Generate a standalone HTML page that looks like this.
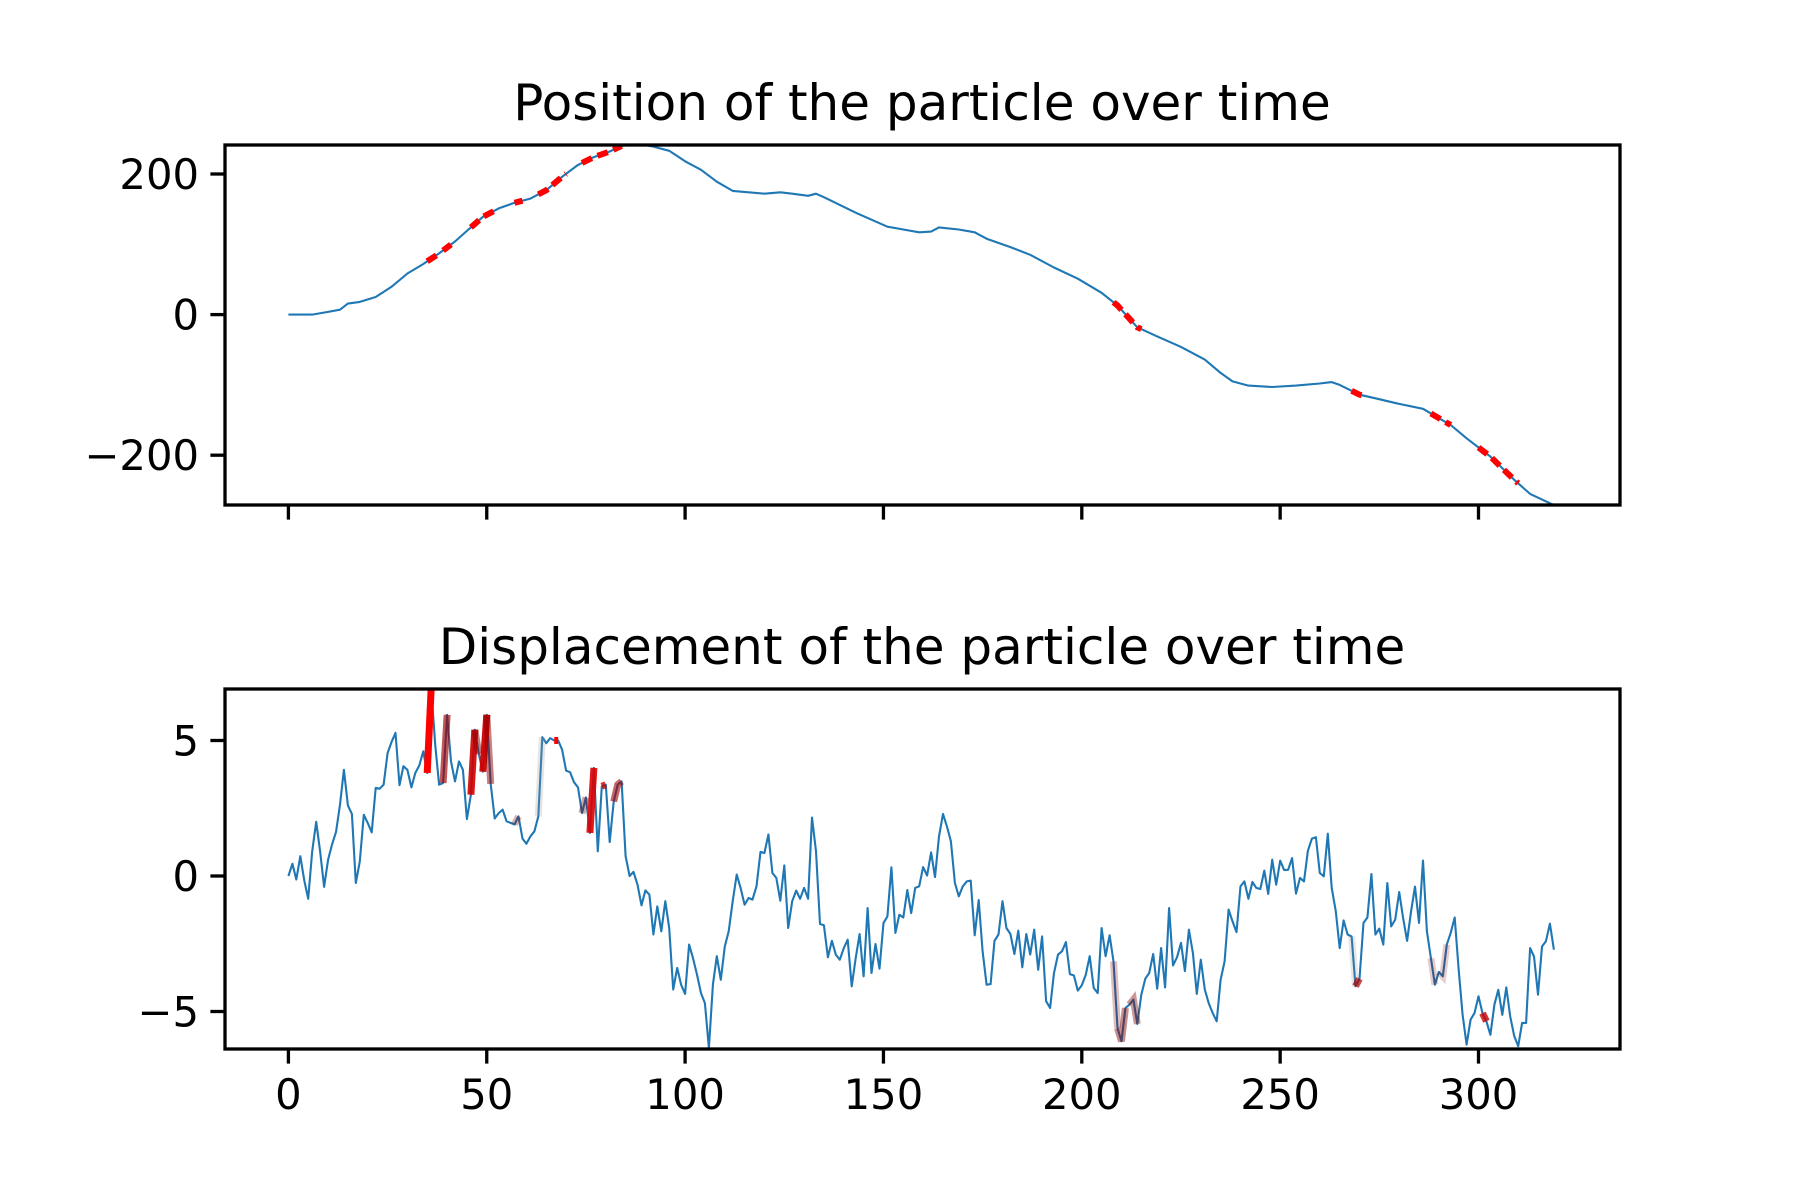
<!DOCTYPE html>
<html><head><meta charset="utf-8"><style>
html,body{margin:0;padding:0;background:#fff}
svg{display:block}
text{font-family:"DejaVu Sans","Liberation Sans",sans-serif;fill:#000}
</style></head><body>
<svg id="chart" width="1800" height="1200" viewBox="0 0 1800 1200" xmlns="http://www.w3.org/2000/svg">
<defs>
<clipPath id="clipTop"><rect x="225" y="145" width="1395" height="360"/></clipPath>
<clipPath id="clipBot"><rect x="225" y="689" width="1395" height="360"/></clipPath>
</defs>
<rect width="1800" height="1200" fill="#fff"/>
<text x="922" y="120" font-size="50" text-anchor="middle">Position of the particle over time</text>
<text x="922" y="664" font-size="50" text-anchor="middle">Displacement of the particle over time</text>
<g id="topPlot"></g>
<g id="botPlot"></g>
</svg>
<script>
const disp = [
0,0.45,-0.13,0.73,-0.17,-0.84,0.91,2.0,0.91,-0.4,
0.6,1.16,1.62,2.63,3.92,2.6,2.29,-0.26,0.54,2.26,
1.96,1.61,3.25,3.22,3.37,4.54,4.94,5.28,3.35,4.05,
3.92,3.27,3.8,4.08,4.6,3.8,6.95,4.85,3.37,3.43,
5.95,4.23,3.49,4.23,3.92,2.1,3.0,5.4,4.5,3.85,
5.95,3.4,
2.12,2.32,2.45,2.02,1.96,1.9,2.2,1.38,
1.19,1.46,1.65,2.2,5.12,4.9,5.09,5.0,5.0,4.66,
3.89,3.83,3.46,3.27,2.32,2.9,1.59,3.99,0.91,3.31,
3.37,1.25,2.75,3.37,3.49,0.73,0,0.15,-0.32,-1.08,
-0.53,-0.69,-2.16,-1.12,-2.04,-0.93,-1.92,-4.19,-3.39,-4.01,
-4.35,-2.53,-3.03,-3.64,-4.32,-4.69,-6.35,-4.01,-2.96,-3.83,
-2.6,-2.04,-0.93,0.05,-0.44,-1.06,-0.81,-0.87,-0.38,0.89,
0.85,1.53,0.11,-0.07,-0.91,0.39,-1.92,-0.93,-0.54,-0.84,
-0.44,-0.84,2.16,0.91,-1.77,-1.82,-3.0,-2.39,-2.9,-3.09,
-2.66,-2.35,-4.07,-3.03,-2.14,-3.7,-1.18,-3.58,-2.51,-3.42,
-1.73,-1.49,0.32,-2.1,-1.43,-1.53,-0.52,-1.37,-0.44,-0.38,
0.33,0.02,0.87,-0.04,1.46,2.29,1.83,1.28,-0.26,-0.75,
-0.38,-0.2,-0.17,-2.19,-0.89,-2.78,-4.01,-3.99,-2.39,-2.16,
-0.93,-1.92,-2.14,-2.88,-2.02,-3.37,-2.14,-2.9,-1.98,-3.46,
-2.23,-4.62,-4.87,-3.58,-2.9,-2.78,-2.44,-3.62,-3.67,-4.23,
-4.03,-3.64,-2.96,-4.13,-4.32,-1.92,-2.96,-2.19,-3.15,-5.61,
-6.1,-4.87,-4.75,-4.56,-5.46,-4.38,-3.79,-3.58,-2.88,-4.16,
-2.66,-4.11,-1.18,-3.3,-3.0,-2.47,-3.51,-1.98,-2.84,-4.35,
-3.09,-4.19,-4.69,-5.06,-5.36,-3.83,-3.15,-1.24,-1.67,-2.07,
-0.38,-0.2,-0.84,-0.22,-0.44,-0.48,0.2,-0.66,0.6,-0.32,
0.57,0.22,0.23,0.66,-0.65,-0.07,-0.2,0.93,1.38,1.43,
0.11,-0.01,1.56,-0.44,-1.28,-2.66,-1.64,-2.16,-2.23,-4.07,
-3.79,-1.73,-1.53,0.07,-2.16,-1.94,-2.53,-0.26,-1.86,-1.61,
-0.59,-1.55,-2.39,-1.3,-0.39,-1.73,0.57,-2.04,-3.03,-4.01,
-3.54,-3.7,-2.53,-2.1,-1.53,-3.47,-5.12,-6.22,-5.3,-5.06,
-4.44,-5.06,-5.36,-5.86,-4.75,-4.2,-5.12,-4.11,-5.18,-5.9,
-6.28,-5.42,-5.42,-2.66,-2.97,-4.38,-2.6,-2.41,-1.76,-2.72
];
const posT = [0,6,10,13,15,18,22,26,30,34,38,42,45,49,53,57,61,65,69,73,77,81,84,88,92,96,100,104,108,112,116,120,124,127,131,133,135,139,143,147,151,155,159,162,164,169,173,176,182,187,193,199,205,209,214,219,225,231,235,238,242,248,254,260,263,265,270,274,280,286,289,293,297,303,309,313,319];
const posV = [0,0,3.8,7,15.7,18,25,39.5,58.5,72,87,104,119,139,151,159,165,177,196,213,224,232,240,243,239,233,218,206,189,176,174,172,174,172,169,172,167,156,145,135,125,121,117,118,124,121,117,108,96,85,67,51,31,13,-18,-31,-46,-64,-83,-95,-101,-103,-101,-98,-96,-100,-114,-119,-127,-134,-144,-157,-176,-202,-235,-255,-271];
const redRangeStart = [35,39,46,57,63,74,208,268,288,300];
const redRangeEnd   = [37.5,41,52,59,70,84,215,271,293,310];
const hiStart = [35,39,46,47,49,50,57,63,67,74,76,79,82,208,209,212,268,269,288,290,301];
const hiEnd   = [36,40,47,48,50,51,58,64,68,75,77,80,84,209,211,214,269,270,289,292,302];
const hiColor = ['#ff0000','#a00000','#d00000','#900000','#d00000','#900000','#800000','#999999','#ff0000','#800000','#dd0000','#cc0000','#a00000','#800000','#800000','#800000','#888888','#b00000','#800000','#800000','#cc0000'];
const hiAlpha = [1,0.65,0.9,0.5,0.95,0.5,0.3,0.25,1,0.35,0.9,0.8,0.6,0.25,0.45,0.4,0.2,0.7,0.2,0.2,0.8];
const xTicks = [0,50,100,150,200,250,300];
const xTickLabels = ['0','50','100','150','200','250','300'];
const topTicks = [200,0,-200];
const topTickLabels = ['200','0','\u2212200'];
const botTicks = [5,0,-5];
const botTickLabels = ['5','0','\u22125'];

const NS='http://www.w3.org/2000/svg';
const AX={l:225,r:1620,t1:145,b1:505,t2:689,b2:1049};
function xs(t){return 288.4+3.967*t;}
function ysTop(v){return 314.6-0.703*v;}
function ysBot(v){return 876-27.1*v;}
function mk(tag,attrs,parent){const e=document.createElementNS(NS,tag);for(const k in attrs)e.setAttribute(k,attrs[k]);parent.appendChild(e);return e;}
function posAt(t){for(let i=0;i<posT.length-1;i++){if(t>=posT[i]&&t<=posT[i+1]){const f=(t-posT[i])/(posT[i+1]-posT[i]);return posV[i]+f*(posV[i+1]-posV[i]);}}return posV[posV.length-1];}

const topG=document.getElementById('topPlot');
const botG=document.getElementById('botPlot');

let pts=posT.map((t,i)=>xs(t).toFixed(1)+','+ysTop(posV[i]).toFixed(1)).join(' ');
const pl=mk('polyline',{points:pts,fill:'none',stroke:'#1f77b4','stroke-width':2.1,'stroke-linejoin':'round','clip-path':'url(#clipTop)'},topG);



for(let k=0;k<redRangeStart.length;k++){
  const a=redRangeStart[k],b=redRangeEnd[k];
  const ts=[a];posT.forEach(t=>{if(t>a&&t<b)ts.push(t);});ts.push(b);
  const p=ts.map(t=>xs(t).toFixed(1)+','+ysTop(posAt(t)).toFixed(1)).join(' ');
  const r=mk('polyline',{points:p,fill:'none',stroke:'#ff0000','stroke-width':6,'stroke-dasharray':'11,6','clip-path':'url(#clipTop)'},topG);
  
  
}

pts=disp.map((v,i)=>xs(i).toFixed(1)+','+ysBot(v).toFixed(1)).join(' ');
const dl=mk('polyline',{points:pts,fill:'none',stroke:'#1f77b4','stroke-width':2.1,'stroke-linejoin':'round','clip-path':'url(#clipBot)'},botG);



for(let k=0;k<hiStart.length;k++){
  const p=[];for(let i=hiStart[k];i<=hiEnd[k];i++)p.push(xs(i).toFixed(1)+','+ysBot(disp[i]).toFixed(1));
  const h=mk('polyline',{points:p.join(' '),fill:'none',stroke:hiColor[k],'stroke-opacity':hiAlpha[k],'stroke-width':7,'clip-path':'url(#clipBot)'},botG);
  
  
}

function frame(g,t,b,name){
  const r=mk('rect',{x:AX.l,y:t,width:AX.r-AX.l,height:b-t,fill:'none',stroke:'#000','stroke-width':3.3},g);
  
  
}
frame(topG,AX.t1,AX.b1,'position-frame');
frame(botG,AX.t2,AX.b2,'displacement-frame');

xTicks.forEach((t,i)=>{
  [[topG,AX.b1],[botG,AX.b2]].forEach(([g,yb])=>{
    const tk=mk('line',{x1:xs(t),x2:xs(t),y1:yb,y2:yb+14.6,stroke:'#000','stroke-width':3.3},g);
    
    
  });
  const lb=mk('text',{x:xs(t),y:1109,'font-size':41.7,'text-anchor':'middle'},botG);
  lb.textContent=xTickLabels[i];
  
  
});
function yTicks(g,vals,labels,f){
  vals.forEach((v,i)=>{
    const y=f(v);
    const tk=mk('line',{x1:AX.l-14.6,x2:AX.l,y1:y,y2:y,stroke:'#000','stroke-width':3.3},g);
    
    
    const lb=mk('text',{x:AX.l-26,y:y+15,'font-size':41.7,'text-anchor':'end'},g);
    lb.textContent=labels[i];
    
    
  });
}
yTicks(topG,topTicks,topTickLabels,ysTop);
yTicks(botG,botTicks,botTickLabels,ysBot);
</script>
</body></html>
